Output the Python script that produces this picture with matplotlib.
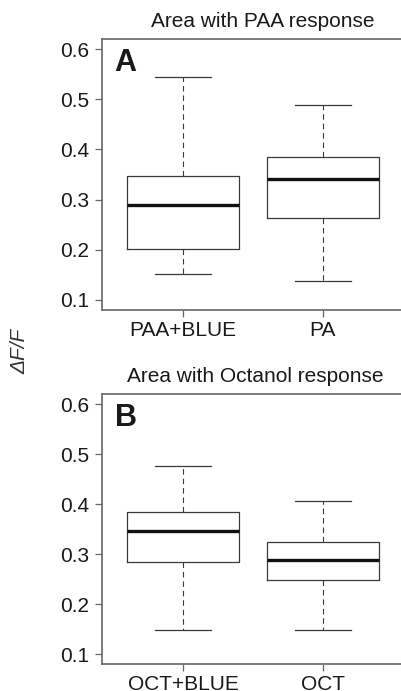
import matplotlib
matplotlib.use('Agg')
import matplotlib.pyplot as plt

plt.rcParams['font.family'] = ['Liberation Sans', 'DejaVu Sans']

# panel A: area with PAA response
labels_a = ["PAA+BLUE", "PA"]
whislo_a = [0.152, 0.137]
q1_a = [0.202, 0.264]
med_a = [0.289, 0.342]
q3_a = [0.348, 0.385]
whishi_a = [0.545, 0.488]

# panel B: area with octanol response
labels_b = ["OCT+BLUE", "OCT"]
whislo_b = [0.148, 0.148]
q1_b = [0.284, 0.249]
med_b = [0.347, 0.288]
q3_b = [0.385, 0.325]
whishi_b = [0.476, 0.406]

yticks = [0.1, 0.2, 0.3, 0.4, 0.5, 0.6]

W, H = 402, 691
fig = plt.figure(figsize=(W / 100, H / 100), dpi=100)

col_line = "#3a3a3a"
col_spine = "#666666"


def panel(rect, labels, lo, q1, med, q3, hi, letter, title, title_x, title_y):
    ax = fig.add_axes(rect)
    stats = []
    for i in range(len(labels)):
        stats.append({"label": labels[i], "whislo": lo[i], "q1": q1[i], "med": med[i],
                      "q3": q3[i], "whishi": hi[i], "fliers": []})
    ax.bxp(stats, positions=[1, 2], widths=0.8, showfliers=False,
           boxprops=dict(color=col_line, linewidth=0.9),
           medianprops=dict(color="#111111", linewidth=2.4, solid_capstyle="butt"),
           whiskerprops=dict(color=col_line, linewidth=0.8, linestyle=(0, (5, 3.5))),
           capprops=dict(color=col_line, linewidth=0.9),
           capwidths=0.4)
    ax.set_xlim(0.42, 2.58)
    ax.set_ylim(0.08, 0.62)
    ax.set_yticks(yticks)
    ax.set_yticklabels([f"{v:.1f}" for v in yticks])
    ax.set_xticks([1, 2])
    ax.set_xticklabels(labels)
    ax.tick_params(axis="both", labelsize=15, color=col_spine, length=5, width=0.9,
                   labelcolor="#1a1a1a", pad=4)
    ax.tick_params(axis="x", pad=3)
    for s in ax.spines.values():
        s.set_color(col_spine)
        s.set_linewidth(1.2)
    ax.text(0.042, 0.965, letter, transform=ax.transAxes, fontsize=22,
            fontweight="bold", va="top", ha="left", color="#1a1a1a")
    fig.text(title_x / W, 1 - title_y / H, title, ha="center", va="baseline",
             fontsize=15, color="#1a1a1a")
    return ax


panel([102 / W, 1 - 310 / H, 302 / W, 271 / H], labels_a, whislo_a, q1_a, med_a, q3_a,
      whishi_a, "A", "Area with PAA response", 263, 27)
panel([102 / W, 1 - 664 / H, 302 / W, 270 / H], labels_b, whislo_b, q1_b, med_b, q3_b,
      whishi_b, "B", "Area with Octanol response", 255, 382)

fig.text(20 / W, 1 - 351 / H, "ΔF/F", rotation=90, ha="center", style="italic",
         va="center", fontsize=15, color="#333333")

fig.savefig("out.png", dpi=100)
